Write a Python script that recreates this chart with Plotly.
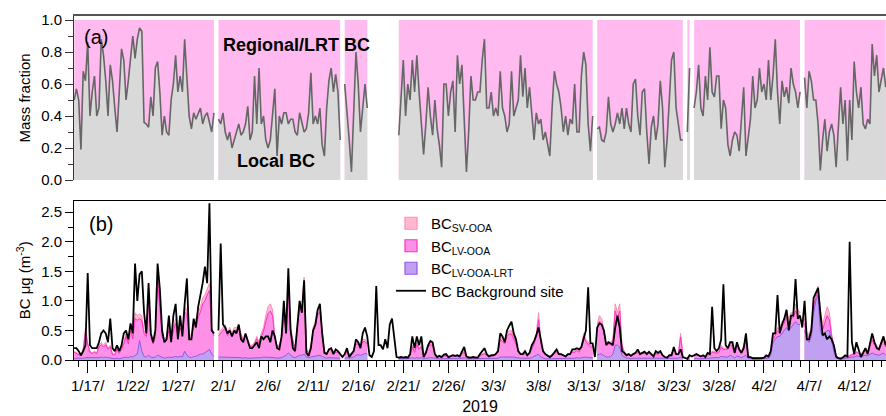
import pandas as pd
import plotly.graph_objects as go

N = None
FONT = "Liberation Sans, Arial, sans-serif"

# 6-hourly samples starting 2019-01-15 12:00
start_time = "2019-01-15 12:00"

# (a) Local BC mass fraction
frac = [
    0.50, 0.57,
    0.50, 0.19, 0.68, 0.62,  0.86, 0.40, 0.55, 0.65,  0.40, 0.45, 0.88, 0.78,
    0.62, 0.40, 0.72, 0.62,  0.45, 0.30, 0.55, 0.82,  0.75, 0.50, 0.62, 0.75,
    0.90, 0.76, 0.88, 0.95,  0.93, 0.36, 0.35, 0.33,  0.52, 0.40, 0.70, 0.74,
    0.55, 0.28, 0.40, 0.30,  0.28, 0.50, 0.60, 0.78,  0.55, 0.65, 0.55, 0.88,
    0.60, 0.40, 0.32, 0.42,  0.38, 0.42, 0.45, 0.35,  0.40, 0.42, 0.35, 0.30,
    0.42, N, 0.38, 0.35,
    0.42, 0.30, 0.25, 0.30,  0.20, 0.26, 0.30, 0.35,  0.28, 0.30, 0.35, 0.46,
    0.25, 0.30, 0.65, 0.35,  0.70, 0.35, 0.40, 0.25,  0.20, 0.25, 0.40, 0.57,
    0.15, 0.40, 0.35, 0.42,  0.42, 0.35, 0.38, 0.38,  0.30, 0.28, 0.42, 0.35,
    0.30, 0.32, 0.42, 0.67,  0.35, 0.40, 0.35, 0.45,  0.22, 0.15, 0.45, 0.62,
    0.70, 0.55, 0.66, 0.55,  0.25, N, 0.60, 0.45,  0.25, 0.05, 0.40, 0.80,
    0.60, 0.30, 0.45, 0.60,  0.45, N, N, N,  N, N, N, N,  N, N, N, N,
    N, N, 0.28, 0.55,  0.75, 0.40, 0.60, 0.50,  0.75, 0.55, 0.78, 0.55,
    0.32, 0.16, 0.35, 0.58,  0.40, 0.28, 0.50, 0.32,  0.22, 0.08, 0.60, 0.60,
    0.40, 0.55, 0.62, 0.30,  0.78, 0.60, 0.72, 0.40,  0.05, 0.30, 0.65, 0.50,
    0.50, 0.55, 0.55, 0.75,  0.88, 0.45, 0.45, 0.55,  0.40, 0.45, 0.40, 0.68,
    0.45, 0.40, 0.30, 0.35,  0.68, 0.40, 0.45, 0.50,  0.78, 0.52, 0.70, 0.45,
    0.58, 0.42, 0.25, 0.42,  0.35, 0.38, 0.25, 0.30,  0.22, 0.15, 0.45, 0.68,
    0.60, 0.55, 0.45, 0.30,  0.40, 0.28, 0.38, 0.35,  0.60, 0.30, 0.30, 0.65,
    0.80, 0.72, 0.35, 0.18,  0.40, N, 0.32, 0.33,  0.25, 0.24, 0.30, 0.52,
    0.35, 0.30, 0.35, 0.42,  0.35, 0.45, 0.32, 0.45,  0.35, 0.30, 0.60, 0.63,
    0.40, 0.28, 0.55, 0.57,  0.30, 0.10, 0.33, 0.40,  0.25, 0.35, 0.62, 0.45,
    0.08, 0.25, 0.50, 0.75,  0.80, 0.45, 0.35, 0.25,  0.25, N, 0.30, 0.70,
    N, 0.45, 0.55, 0.72,  0.45, 0.40, 0.65, 0.50,  0.83, 0.55, 0.52, 0.65,
    0.65, 0.32, 0.50, 0.45,  0.22, 0.15, 0.25, 0.30,  0.28, 0.18, 0.40, 0.58,
    0.15, 0.28, 0.38, 0.65,  0.45, 0.50, 0.70, 0.55,  0.60, 0.50, 0.75, 0.50,
    0.65, 0.88, 0.55, 0.35,  0.62, 0.52, 0.58, 0.48,  0.70, 0.60, 0.55, 0.45,
    0.55, N, 0.64, 0.45,  0.68, 0.62, 0.50, 0.50,  0.35, 0.06, 0.25, 0.38,
    0.18, 0.30, 0.35, 0.28,  0.08, 0.30, 0.58, 0.35,  0.50, 0.12, 0.50, 0.25,
    0.74, 0.55, 0.45, 0.58,  0.35, 0.32, 0.38, 0.35,  0.85, 0.65, 0.78, 0.55,
    0.62, 0.70, 0.58,
]

# (b) BC at background site (ug m-3)
bg = [
    0.20, 0.20,
    0.15, 0.08, 0.15, 0.25,  1.47, 0.25, 0.20, 0.20,  0.20, 0.30, 0.45, 0.50,
    0.45, 0.30, 0.70, 0.20,  0.15, 0.25, 0.15, 0.25,  0.45, 0.50, 0.35, 0.62,
    0.45, 1.63, 1.00, 1.45,  1.50, 0.80, 0.45, 1.30,  0.45, 0.30, 0.50, 1.63,
    1.20, 0.50, 0.30, 0.35,  0.75, 0.30, 0.75, 0.95,  0.35, 0.75, 0.40, 0.95,
    1.38, 0.35, 0.35, 0.70,  0.55, 0.90, 1.10, 1.30,  1.58, 1.30, 2.65, 0.50,
    0.45, N, 0.50, 1.97,
    0.60, 0.55, 0.45, 0.50,  0.40, 0.50, 0.45, 0.60,  0.35, 0.30, 0.45, 0.30,
    0.20, 0.20, 0.25, 0.30,  0.20, 0.40, 0.35, 0.40,  0.40, 0.30, 0.50, 0.40,
    0.20, 0.18, 0.40, 1.00,  0.45, 1.55, 0.50, 0.20,  0.15, 0.55, 1.00, 0.80,
    1.35, 0.12, 0.07, 0.20,  0.50, 0.60, 0.85, 0.95,  0.45, 0.12, 0.10, 0.18,
    0.20, 0.10, 0.18, 0.15,  0.10, 0.05, 0.10, 0.20,  0.05, 0.10, 0.15, 0.35,
    0.30, 0.20, 0.45, 0.55,  0.40, 0.08, 0.05, 0.15,  1.25, 0.25, 0.25, 0.18,
    0.35, 0.20, 0.60, 0.70,  0.40, 0.05, 0.04, 0.05,  0.04, 0.05, 0.04, 0.10,
    0.40, 0.20, 0.40, 0.25,  0.40, 0.05, 0.12, 0.25,  0.32, 0.30, 0.10, 0.05,
    0.07, 0.05, 0.09, 0.10,  0.05, 0.06, 0.08, 0.07,  0.08, 0.06, 0.15, 0.22,
    0.06, 0.04, 0.04, 0.05,  0.04, 0.04, 0.10, 0.15,  0.20, 0.10, 0.06, 0.08,
    0.08, 0.10, 0.15, 0.45,  0.40, 0.30, 0.50, 0.58,  0.65, 0.45, 0.35, 0.15,
    0.10, 0.10, 0.15, 0.08,  0.12, 0.25, 0.32, 0.42,  0.55, 0.35, 0.15, 0.10,
    0.08, 0.05, 0.08, 0.14,  0.18, 0.10, 0.10, 0.08,  0.06, 0.10, 0.10, 0.18,
    0.18, 0.20, 0.18, 0.22,  0.35, 0.50, 1.23, 0.28,  0.28, 0.05, 0.55, 0.62,
    0.60, 0.50, 0.25, 0.30,  0.28, 0.25, 0.55, 0.75,  0.55, 0.15, 0.12, 0.08,
    0.10, 0.07, 0.10, 0.12,  0.18, 0.10, 0.12, 0.14,  0.10, 0.14, 0.10, 0.06,
    0.15, 0.12, 0.15, 0.08,  0.05, 0.04, 0.08, 0.08,  0.22, 0.10, 0.10, 0.18,
    0.05, 0.03, 0.02, 0.08,  0.06, 0.08, 0.10, 0.08,  0.06, 0.08, 0.05, 0.12,
    0.10, 0.90, 0.20, 0.15,  0.20, 0.35, 1.28, 0.25,  0.20, 0.30, 0.30, 0.12,
    0.30, 0.18, 0.12, 0.20,  0.45, 0.05, 0.05, 0.03,  0.03, 0.02, 0.03, 0.03,
    0.04, 0.08, 0.06, 0.15,  0.45, 0.45, 1.10, 0.45,  0.60, 0.70, 0.85, 0.50,
    0.75, 0.75, 1.37, 0.70,  0.75, 0.55, 1.00, 0.35,  0.35, 0.50, 1.05, 1.15,
    1.22, 0.80, 0.42, 0.45,  0.35, 0.40, 0.35, 0.25,  0.06, 0.03, 0.02, 0.04,
    0.08, 0.06, 2.00, 0.30,  0.10, 0.30, 0.15, 0.05,  0.12, 0.20, 0.10, 0.28,
    0.45, 0.30, 0.20, 0.18,  0.28, 0.40, 0.25,
]

# (b) BC_LV-OOA-LRT
lrt = [
    0.03, 0.03,
    0.03, 0.02, 0.03, 0.04,  0.04, 0.03, 0.03, 0.03,  0.03, 0.04, 0.05, 0.04,
    0.05, 0.04, 0.04, 0.02,  0.02, 0.03, 0.02, 0.03,  0.04, 0.05, 0.04, 0.06,
    0.05, 0.08, 0.10, 0.33,  0.15, 0.06, 0.05, 0.08,  0.05, 0.04, 0.05, 0.08,
    0.06, 0.04, 0.03, 0.04,  0.05, 0.04, 0.05, 0.06,  0.05, 0.06, 0.05, 0.15,
    0.08, 0.05, 0.04, 0.06,  0.06, 0.08, 0.10, 0.10,  0.12, 0.15, 0.18, 0.10,
    0.06, N, 0.05, 0.05,
    0.05, 0.04, 0.04, 0.05,  0.04, 0.04, 0.05, 0.05,  0.04, 0.03, 0.04, 0.03,
    0.03, 0.03, 0.03, 0.04,  0.03, 0.04, 0.05, 0.05,  0.05, 0.05, 0.05, 0.04,
    0.03, 0.03, 0.04, 0.06,  0.08, 0.12, 0.08, 0.05,  0.04, 0.06, 0.08, 0.08,
    0.10, 0.05, 0.04, 0.05,  0.06, 0.06, 0.08, 0.08,  0.06, 0.04, 0.03, 0.04,
    0.04, 0.03, 0.03, 0.03,  0.03, N, 0.03, 0.04,  0.03, 0.04, 0.05, 0.08,
    0.09, 0.08, 0.10, 0.11,  0.10, N, N, N,  N, N, N, N,  N, N, N, N,
    N, N, 0.02, 0.02,  0.02, 0.02, 0.02, 0.03,  0.04, 0.03, 0.04, 0.03,
    0.04, 0.02, 0.03, 0.04,  0.04, 0.04, 0.03, 0.02,  0.02, 0.02, 0.02, 0.02,
    0.02, 0.02, 0.03, 0.02,  0.03, 0.02, 0.03, 0.04,  0.02, 0.02, 0.02, 0.02,
    0.02, 0.02, 0.02, 0.03,  0.03, 0.02, 0.02, 0.02,  0.02, 0.03, 0.03, 0.05,
    0.05, 0.05, 0.06, 0.06,  0.06, 0.05, 0.04, 0.03,  0.03, 0.03, 0.03, 0.02,
    0.03, 0.04, 0.06, 0.08,  0.10, 0.05, 0.03, 0.02,  0.02, 0.02, 0.02, 0.03,
    0.03, 0.03, 0.03, 0.02,  0.02, 0.03, 0.03, 0.03,  0.03, 0.04, 0.03, 0.04,
    0.05, 0.05, 0.04, 0.04,  0.04, N, 0.08, 0.10,  0.10, 0.08, 0.05, 0.05,
    0.06, 0.10, 0.25, 0.25,  0.22, 0.08, 0.05, 0.03,  0.03, 0.02, 0.03, 0.03,
    0.03, 0.03, 0.03, 0.03,  0.03, 0.03, 0.03, 0.02,  0.03, 0.03, 0.03, 0.02,
    0.02, 0.02, 0.02, 0.03,  0.03, 0.03, 0.03, 0.05,  0.02, N, 0.01, 0.02,
    N, 0.02, 0.03, 0.02,  0.02, 0.02, 0.02, 0.03,  0.03, 0.04, 0.04, 0.03,
    0.04, 0.06, 0.05, 0.05,  0.05, 0.08, 0.06, 0.03,  0.07, 0.05, 0.04, 0.06,
    0.08, 0.03, 0.02, 0.02,  0.02, 0.02, 0.02, 0.02,  0.02, 0.03, 0.03, 0.08,
    0.30, 0.35, 0.40, 0.40,  0.45, 0.50, 0.55, 0.50,  0.55, 0.58, 0.65, 0.60,
    0.60, N, 0.50, 0.35,  0.30, 0.40, 0.80, 1.00,  1.10, 0.50, 0.40, 0.45,
    0.50, 0.50, 0.30, 0.15,  0.03, 0.02, 0.02, 0.02,  0.03, 0.03, 0.04, 0.05,
    0.05, 0.07, 0.06, 0.05,  0.07, 0.08, 0.07, 0.10,  0.12, 0.10, 0.09, 0.08,
    0.10, 0.12, 0.08,
]

# (b) BC_LV-OOA
lv = [
    0.10, 0.08,
    0.06, 0.05, 0.14, 0.43,  0.22, 0.10, 0.08, 0.10,  0.08, 0.18, 0.21, 0.18,
    0.21, 0.14, 0.18, 0.07,  0.07, 0.15, 0.09, 0.15,  0.23, 0.35, 0.23, 0.43,
    0.31, 0.62, 0.57, 0.37,  0.52, 0.39, 0.35, 0.90,  0.35, 0.23, 0.35, 1.27,
    0.84, 0.36, 0.28, 0.32,  0.44, 0.27, 0.44, 0.56,  0.35, 0.48, 0.40, 0.66,
    0.69, 0.35, 0.32, 0.52,  0.57, 0.64, 0.71, 0.85,  0.88, 0.95, 1.00, 0.40,
    0.35, N, 0.36, 0.40,
    0.45, 0.50, 0.37, 0.45,  0.37, 0.46, 0.45, 0.49,  0.37, 0.29, 0.37, 0.29,
    0.20, 0.20, 0.24, 0.32,  0.24, 0.36, 0.44, 0.60,  0.73, 0.78, 0.70, 0.32,
    0.20, 0.20, 0.32, 0.66,  0.46, 1.06, 0.42, 0.27,  0.14, 0.48, 0.82, 0.73,
    1.16, 0.13, 0.07, 0.17,  0.43, 0.52, 0.69, 0.73,  0.35, 0.10, 0.08, 0.12,
    0.14, 0.10, 0.10, 0.10,  0.08, N, 0.08, 0.09,  0.06, 0.07, 0.11, 0.19,
    0.18, 0.14, 0.21, 0.20,  0.17, N, N, N,  N, N, N, N,  N, N, N, N,
    N, N, 0.01, 0.02,  0.01, 0.02, 0.02, 0.04,  0.18, 0.10, 0.22, 0.15,
    0.18, 0.05, 0.10, 0.18,  0.22, 0.20, 0.08, 0.03,  0.04, 0.02, 0.05, 0.05,
    0.03, 0.03, 0.04, 0.04,  0.04, 0.04, 0.07, 0.09,  0.03, 0.02, 0.02, 0.02,
    0.02, 0.02, 0.05, 0.06,  0.08, 0.05, 0.03, 0.04,  0.05, 0.06, 0.10, 0.30,
    0.26, 0.22, 0.34, 0.38,  0.38, 0.30, 0.23, 0.10,  0.06, 0.06, 0.08, 0.05,
    0.08, 0.14, 0.21, 0.32,  0.58, 0.22, 0.10, 0.07,  0.05, 0.03, 0.05, 0.08,
    0.10, 0.06, 0.06, 0.05,  0.03, 0.06, 0.06, 0.10,  0.10, 0.12, 0.10, 0.18,
    0.35, 0.26, 0.23, 0.18,  0.18, N, 0.45, 0.55,  0.52, 0.36, 0.22, 0.22,
    0.21, 0.21, 0.58, 0.45,  0.61, 0.14, 0.08, 0.06,  0.06, 0.05, 0.06, 0.08,
    0.10, 0.06, 0.08, 0.08,  0.08, 0.09, 0.06, 0.05,  0.08, 0.06, 0.10, 0.05,
    0.02, 0.02, 0.05, 0.06,  0.15, 0.06, 0.06, 0.34,  0.07, N, 0.01, 0.05,
    N, 0.05, 0.06, 0.05,  0.04, 0.05, 0.03, 0.06,  0.06, 0.09, 0.09, 0.08,
    0.09, 0.16, 0.13, 0.13,  0.13, 0.18, 0.16, 0.08,  0.18, 0.13, 0.09, 0.16,
    0.23, 0.04, 0.02, 0.01,  0.01, 0.01, 0.01, 0.01,  0.01, 0.02, 0.02, 0.05,
    0.06, 0.06, 0.09, 0.06,  0.12, 0.12, 0.18, 0.12,  0.15, 0.14, 0.18, 0.15,
    0.12, N, 0.12, 0.06,  0.10, 0.10, 0.10, 0.07,  0.10, 0.20, 0.12, 0.18,
    0.25, 0.18, 0.10, 0.07,  0.02, 0.01, 0.01, 0.02,  0.02, 0.02, 0.03, 0.04,
    0.04, 0.06, 0.05, 0.04,  0.06, 0.09, 0.06, 0.12,  0.22, 0.16, 0.13, 0.10,
    0.16, 0.23, 0.14,
]

# (b) BC_SV-OOA
sv = [
    0.02, 0.01,
    0.01, 0.01, 0.03, 0.08,  0.04, 0.02, 0.01, 0.02,  0.01, 0.03, 0.04, 0.03,
    0.04, 0.02, 0.03, 0.01,  0.01, 0.02, 0.01, 0.02,  0.03, 0.05, 0.03, 0.06,
    0.04, 0.10, 0.08, 0.08,  0.08, 0.05, 0.05, 0.12,  0.05, 0.03, 0.05, 0.15,
    0.10, 0.05, 0.04, 0.04,  0.06, 0.04, 0.06, 0.08,  0.05, 0.06, 0.05, 0.09,
    0.08, 0.05, 0.04, 0.07,  0.07, 0.08, 0.09, 0.10,  0.10, 0.10, 0.12, 0.05,
    0.04, N, 0.04, 0.05,
    0.05, 0.06, 0.04, 0.05,  0.04, 0.05, 0.05, 0.06,  0.04, 0.03, 0.04, 0.03,
    0.02, 0.02, 0.03, 0.04,  0.03, 0.05, 0.06, 0.10,  0.12, 0.12, 0.10, 0.04,
    0.02, 0.02, 0.04, 0.08,  0.06, 0.12, 0.05, 0.03,  0.02, 0.06, 0.10, 0.09,
    0.14, 0.02, 0.01, 0.03,  0.06, 0.07, 0.08, 0.09,  0.04, 0.01, 0.01, 0.02,
    0.02, 0.02, 0.02, 0.02,  0.01, N, 0.01, 0.02,  0.01, 0.01, 0.02, 0.03,
    0.03, 0.03, 0.04, 0.04,  0.03, N, N, N,  N, N, N, N,  N, N, N, N,
    N, N, 0.01, 0.01,  0.01, 0.01, 0.01, 0.01,  0.03, 0.02, 0.04, 0.02,
    0.03, 0.01, 0.02, 0.03,  0.04, 0.04, 0.01, 0.01,  0.01, 0.01, 0.01, 0.01,
    0.01, 0.01, 0.01, 0.01,  0.01, 0.01, 0.02, 0.02,  0.01, 0.01, 0.01, 0.01,
    0.01, 0.01, 0.01, 0.01,  0.01, 0.01, 0.01, 0.01,  0.01, 0.01, 0.02, 0.05,
    0.04, 0.03, 0.05, 0.06,  0.06, 0.05, 0.03, 0.02,  0.01, 0.01, 0.01, 0.01,
    0.01, 0.02, 0.03, 0.05,  0.12, 0.03, 0.02, 0.01,  0.01, 0.01, 0.01, 0.01,
    0.02, 0.01, 0.01, 0.01,  0.01, 0.01, 0.01, 0.02,  0.02, 0.02, 0.02, 0.03,
    0.05, 0.04, 0.03, 0.03,  0.03, N, 0.07, 0.10,  0.08, 0.06, 0.03, 0.03,
    0.03, 0.04, 0.12, 0.10,  0.12, 0.03, 0.02, 0.01,  0.01, 0.01, 0.01, 0.01,
    0.02, 0.01, 0.01, 0.01,  0.01, 0.02, 0.01, 0.01,  0.01, 0.01, 0.02, 0.01,
    0.01, 0.01, 0.01, 0.01,  0.02, 0.01, 0.01, 0.06,  0.01, N, 0.01, 0.01,
    N, 0.01, 0.01, 0.01,  0.01, 0.01, 0.01, 0.01,  0.01, 0.02, 0.02, 0.01,
    0.02, 0.03, 0.02, 0.02,  0.02, 0.04, 0.03, 0.01,  0.03, 0.02, 0.02, 0.03,
    0.04, 0.01, 0.01, 0.01,  0.00, 0.00, 0.00, 0.00,  0.01, 0.01, 0.01, 0.02,
    0.04, 0.04, 0.06, 0.04,  0.08, 0.08, 0.12, 0.08,  0.10, 0.08, 0.12, 0.10,
    0.08, N, 0.08, 0.04,  0.05, 0.05, 0.05, 0.03,  0.05, 0.15, 0.08, 0.12,
    0.15, 0.12, 0.05, 0.03,  0.01, 0.01, 0.01, 0.01,  0.01, 0.01, 0.01, 0.01,
    0.01, 0.02, 0.01, 0.01,  0.02, 0.03, 0.02, 0.03,  0.06, 0.04, 0.03, 0.02,
    0.04, 0.05, 0.03,
]

major_ticks = ["2019-01-17", "2019-01-22", "2019-01-27", "2019-02-01", "2019-02-06",
               "2019-02-11", "2019-02-16", "2019-02-21", "2019-02-26", "2019-03-03",
               "2019-03-08", "2019-03-13", "2019-03-18", "2019-03-23", "2019-03-28",
               "2019-04-02", "2019-04-07", "2019-04-12"]
major_labels = ["1/17/", "1/22/", "1/27/", "2/1/", "2/6/", "2/11/", "2/16/", "2/21/",
                "2/26/", "3/3/", "3/8/", "3/13/", "3/18/", "3/23/", "3/28/", "4/2/",
                "4/7/", "4/12/"]

n = len(frac)
for name, arr in [("bg", bg), ("lrt", lrt), ("lv", lv), ("sv", sv)]:
    if len(arr) != n:
        print("length mismatch", name, len(arr), n)

t = list(pd.date_range(start_time, periods=n, freq="6h"))


def add(a, b):
    return [None if (x is None or y is None) else x + y for x, y in zip(a, b)]


def segments(xs, ys):
    """Split a series into contiguous runs without missing values."""
    runs, cx, cy = [], [], []
    for x, y in zip(xs, ys):
        if y is None:
            if cx:
                runs.append((cx, cy))
            cx, cy = [], []
        else:
            cx.append(x)
            cy.append(y)
    if cx:
        runs.append((cx, cy))
    return runs


mid = add(lrt, lv)
top = add(mid, sv)
regional_top = [None if v is None else 1.0 for v in frac]

fig = go.Figure()


def add_area(xs, ys, fillcolor, line, xa, ya):
    for sx, sy in segments(xs, ys):
        fig.add_trace(go.Scatter(
            x=sx, y=sy, mode="lines", fill="tozeroy", fillcolor=fillcolor, line=line,
            showlegend=False, xaxis=xa, yaxis=ya, hoverinfo="skip"))


SV_FILL, SV_EDGE = "#FFB8D2", "#FF8AB8"
LV_FILL, LV_EDGE = "#FF90E8", "#FF30C8"
LRT_FILL, LRT_EDGE = "#C0A0F0", "#9955E8"

# panel (a)
add_area(t, regional_top, "#FFBBF0", dict(width=0, color="#FFBBF0"), "x", "y")
add_area(t, frac, "#D9D9D9", dict(width=1.6, color="#666666"), "x", "y")

# panel (b)
add_area(t, top, SV_FILL, dict(width=1, color=SV_EDGE), "x2", "y2")
add_area(t, mid, LV_FILL, dict(width=1, color=LV_EDGE), "x2", "y2")
add_area(t, lrt, LRT_FILL, dict(width=1, color=LRT_EDGE), "x2", "y2")
fig.add_trace(go.Scatter(x=t, y=bg, mode="lines", showlegend=False,
                         line=dict(width=1.8, color="black"),
                         xaxis="x2", yaxis="y2", connectgaps=False))

# legend entries (square swatches like the original)
for lname, fc, ec in [("BC<sub>SV-OOA</sub>", SV_FILL, SV_EDGE),
                      ("BC<sub>LV-OOA</sub>", LV_FILL, LV_EDGE),
                      ("BC<sub>LV-OOA-LRT</sub>", LRT_FILL, LRT_EDGE)]:
    fig.add_trace(go.Scatter(x=[None], y=[None], mode="markers", name=lname,
                             marker=dict(symbol="square", size=12, color=fc,
                                         line=dict(color=ec, width=1.2)),
                             xaxis="x2", yaxis="y2"))
fig.add_trace(go.Scatter(x=[None], y=[None], mode="lines", name="BC Background site",
                         line=dict(width=1.8, color="black"), xaxis="x2", yaxis="y2"))

H = 416.0
W0, W = 74.0, 812.0


def py(p):
    return 1 - p / H


def px(p):
    return (p - W0) / W


xrange_ = ["2019-01-15 11:30", "2019-04-15 12:45"]
day_ticks = pd.date_range("2019-01-15", "2019-04-16", freq="D")

fig.update_layout(
    width=886, height=416,
    margin=dict(l=74, r=0, t=0, b=0),
    paper_bgcolor="white", plot_bgcolor="white",
    font=dict(family=FONT, size=15, color="black"),
    showlegend=True,
    legend=dict(x=px(391), y=py(207), xanchor="left", yanchor="top",
                bgcolor="rgba(0,0,0,0)", font=dict(size=15, family=FONT),
                itemwidth=30, tracegroupgap=0, traceorder="normal"),
    xaxis=dict(domain=[0, 1], range=xrange_, type="date", anchor="y", matches="x2",
               showticklabels=False, ticks="", showgrid=False, zeroline=False,
               showline=True, side="top", linecolor="#555555", linewidth=1.5,
               automargin=False),
    yaxis=dict(domain=[py(180), py(16)], range=[0, 1.025], anchor="x",
               tickvals=[0, 0.2, 0.4, 0.6, 0.8, 1.0], ticktext=["0.0", "0.2", "0.4", "0.6", "0.8", "1.0"],
               ticks="outside", ticklen=8, tickwidth=1, tickcolor="#333333",
               minor=dict(tickvals=[0.1, 0.3, 0.5, 0.7, 0.9], ticks="outside", ticklen=5,
                          tickcolor="#333333", showgrid=False),
               showline=True, linecolor="#333333", linewidth=1, showgrid=False, zeroline=False,
               tickfont=dict(size=15), title=dict(text="Mass fraction", font=dict(size=15), standoff=6),
               automargin=False),
    xaxis2=dict(domain=[0, 1], range=xrange_, type="date", anchor="y2",
                tickmode="array", tickvals=major_ticks, ticktext=major_labels,
                ticks="outside", ticklen=12, tickwidth=1, tickcolor="black",
                minor=dict(tickvals=list(day_ticks), ticks="outside", ticklen=6,
                           tickcolor="black", showgrid=False),
                showline=True, mirror=True, linecolor="black", linewidth=1,
                showgrid=False, zeroline=False, tickfont=dict(size=15),
                title=dict(text="2019", font=dict(size=16), standoff=7),
                automargin=False),
    yaxis2=dict(domain=[py(360), py(200.7)], range=[0, 2.695], anchor="x2",
                tickvals=[0, 0.5, 1.0, 1.5, 2.0, 2.5], ticktext=["0.0", "0.5", "1.0", "1.5", "2.0", "2.5"],
                ticks="outside", ticklen=8, tickwidth=1, tickcolor="black",
                minor=dict(tickvals=[0.25, 0.75, 1.25, 1.75, 2.25], ticks="outside", ticklen=5,
                           tickcolor="black", showgrid=False),
                showline=True, linecolor="black", linewidth=1, showgrid=False, zeroline=False,
                tickfont=dict(size=15),
                title=dict(text="BC \u03bcg (m<sup>-3</sup>)", font=dict(size=15), standoff=6),
                automargin=False),
    annotations=[
        dict(text="(a)", x=px(82), y=py(37), xref="paper", yref="paper", xanchor="left",
             yanchor="middle", showarrow=False, font=dict(size=20, family=FONT)),
        dict(text="(b)", x=px(87), y=py(224), xref="paper", yref="paper", xanchor="left",
             yanchor="middle", showarrow=False, font=dict(size=20, family=FONT)),
        dict(text="<b>Regional/LRT BC</b>", x=px(221), y=py(45), xref="paper", yref="paper",
             xanchor="left", yanchor="middle", showarrow=False, font=dict(size=18, family=FONT)),
        dict(text="<b>Local BC</b>", x=px(235), y=py(161), xref="paper", yref="paper",
             xanchor="left", yanchor="middle", showarrow=False, font=dict(size=18, family=FONT)),
    ],
)

fig.write_html("out.html")
